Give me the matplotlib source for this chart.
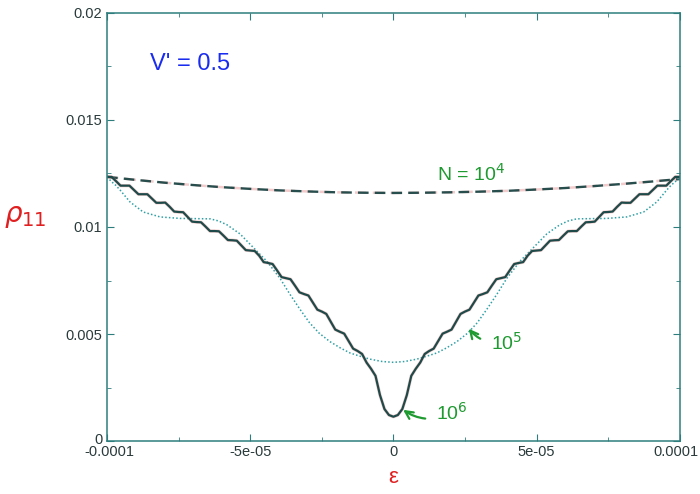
import numpy as np
import matplotlib
matplotlib.use("Agg")
import matplotlib.pyplot as plt
from matplotlib.ticker import FixedLocator
from matplotlib.transforms import ScaledTranslation

plt.rcParams['font.family'] = ['Liberation Sans', 'DejaVu Sans']

# energy axis, left half of the symmetric N = 1e6 curve (step 1.5625e-6)
eps_half = np.linspace(-1e-4, 0.0, 65)
rho_1e6_half = [
    0.01234, 0.01234, 0.01214, 0.01193, 0.01193, 0.01193, 0.01173, 0.01153,
    0.01153, 0.01153, 0.01133, 0.01113, 0.01113, 0.01114, 0.01094, 0.01072,
    0.01070, 0.01069, 0.01047, 0.01025, 0.01023, 0.01022, 0.01002, 0.00981,
    0.00981, 0.00980, 0.00960, 0.00939, 0.00938, 0.00936, 0.00914, 0.00892,
    0.00890, 0.00888, 0.00866, 0.00836, 0.00832, 0.00827, 0.00797, 0.00766,
    0.00761, 0.00756, 0.00726, 0.00695, 0.00687, 0.00680, 0.00647, 0.00614,
    0.00605, 0.00594, 0.00558, 0.00521, 0.00511, 0.00502, 0.00467, 0.00432,
    0.00421, 0.00407, 0.00367, 0.00338, 0.00305, 0.00215, 0.00150, 0.00122,
    0.00114,
]

# N = 1e5 (dotted), left half
eps_1e5_half = [-100e-6, -98.5e-6, -97e-6, -95.5e-6, -92e-6, -87.4e-6, -81.5e-6,
                -74.5e-6, -64e-6, -61e-6, -58.1e-6, -53.6e-6, -49e-6, -44.2e-6,
                -39.6e-6, -36.1e-6, -32.6e-6, -29.3e-6, -26e-6, -22.2e-6,
                -18.5e-6, -15.2e-6, -12e-6, -8.2e-6, -4e-6, 0.0]
rho_1e5_half = [0.01234, 0.01212, 0.01195, 0.01173, 0.01117, 0.01070, 0.01047,
                0.01040, 0.01038, 0.01028, 0.01010, 0.00968, 0.00905, 0.00840,
                0.00760, 0.00685, 0.00615, 0.00553, 0.00505, 0.00465,
                0.00435, 0.00412, 0.00398, 0.00383, 0.00372, 0.00368]

# N = 1e4 (dashed)
eps_1e4 = [-100e-6, -90e-6, -80e-6, -70e-6, -60e-6, -50e-6, -40e-6, -30e-6,
           -20e-6, -10e-6, 0.0, 10e-6, 20e-6, 30e-6, 40e-6, 50e-6, 60e-6,
           70e-6, 80e-6, 90e-6, 100e-6]
rho_1e4 = [0.01234, 0.01220, 0.01207, 0.01196, 0.01186, 0.01178, 0.01171,
           0.01166, 0.01162, 0.01160, 0.01159, 0.01160, 0.01162, 0.01165,
           0.01169, 0.01175, 0.01182, 0.01191, 0.01201, 0.01212, 0.01224]

x_ticks = [-1e-4, -5e-5, 0.0, 5e-5, 1e-4]
x_ticklabels = ['-0.0001', '-5e-05', '0', '5e-05', '0.0001']
y_ticks = [0.0, 0.005, 0.01, 0.015, 0.02]
y_ticklabels = ['0', '0.005', '0.01', '0.015', '0.02']

# mirror the half curves onto positive energies
eps_1e6 = np.concatenate([eps_half, -eps_half[-2::-1]])
rho_1e6 = np.concatenate([rho_1e6_half, rho_1e6_half[-2::-1]])
e5 = np.array(eps_1e5_half)
eps_1e5 = np.concatenate([e5, -e5[-2::-1]])
rho_1e5 = np.concatenate([rho_1e5_half, rho_1e5_half[-2::-1]])

fig = plt.figure(figsize=(7.0, 4.94), dpi=100)
ax = fig.add_axes([0.153, 0.107, 0.818, 0.867])

ax.plot(eps_1e4, rho_1e4, color='#e08080', lw=1.8, dashes=(4.5, 2.6), alpha=0.4)
ax.plot(eps_1e4, rho_1e4, color='#284d4d', lw=1.7, dashes=(4.5, 2.6))
ax.plot(eps_1e5, rho_1e5, color='#30a0a6', lw=1.1, linestyle=(0, (1, 1.4)))
ax.plot(eps_1e6, rho_1e6, color='#e07070', lw=2.4, alpha=0.35,
        solid_joinstyle='round')
ax.plot(eps_1e6, rho_1e6, color='#1f4a4a', lw=1.6, solid_joinstyle='round')

ax.set_xlim(-1e-4, 1e-4)
ax.set_ylim(0, 0.02)
ax.set_xticks(x_ticks)
ax.set_xticklabels(x_ticklabels)
ax.set_yticks(y_ticks)
ax.set_yticklabels(y_ticklabels)
ax.xaxis.set_minor_locator(FixedLocator([-7.5e-5, -2.5e-5, 2.5e-5, 7.5e-5]))
ax.yaxis.set_minor_locator(FixedLocator([0.0025, 0.0075, 0.0125, 0.0175]))
ax.tick_params(which='both', direction='in', top=True, right=True,
               color='#2e7d7d', labelsize=10.5, labelcolor='#2a3a3a')
ax.tick_params(which='major', length=5)
ax.tick_params(which='minor', length=3)
ax.tick_params(axis='x', pad=3)
for s in ax.spines.values():
    s.set_color('#2e7d7d')
    s.set_linewidth(1.1)

# keep the outermost x labels inside the canvas
xlabels = ax.get_xticklabels()
xlabels[-1].set_transform(xlabels[-1].get_transform()
                          + ScaledTranslation(-0.04, 0, fig.dpi_scale_trans))
xlabels[0].set_transform(xlabels[0].get_transform()
                         + ScaledTranslation(0.02, 0, fig.dpi_scale_trans))
ylabels = ax.get_yticklabels()
ylabels[0].set_transform(ylabels[0].get_transform()
                         + ScaledTranslation(0, 0.03, fig.dpi_scale_trans))

# handwritten-style labels
fig.text(0.036, 0.56, r'$\rho_{11}$', color='#e02020', fontsize=20,
         ha='center', va='center')
fig.text(0.562, 0.034, 'ε', color='#e02020', fontsize=16,
         ha='center', va='center')
ax.text(-8.5e-5, 0.0176, "V' = 0.5", color='#1a2cf0', fontsize=17,
        ha='left', va='center')
ax.text(2.7e-5, 0.0125, 'N = 10$^4$', color='#1e9a30', fontsize=14,
        ha='center', va='center')

ax.annotate('10$^5$', xy=(2.6e-5, 0.0053), xytext=(3.4e-5, 0.0046),
            color='#1e9a30', fontsize=14, ha='left', va='center',
            arrowprops=dict(arrowstyle='->', color='#1e9a30', lw=1.6,
                            connectionstyle='arc3,rad=-0.3',
                            shrinkA=6, shrinkB=1))
ax.annotate('10$^6$', xy=(3e-6, 0.0015), xytext=(15e-6, 0.0013),
            color='#1e9a30', fontsize=14, ha='left', va='center',
            arrowprops=dict(arrowstyle='->', color='#1e9a30', lw=1.6,
                            connectionstyle='arc3,rad=-0.3',
                            shrinkA=6, shrinkB=1))

fig.savefig('out.png', dpi=100, facecolor='white')
